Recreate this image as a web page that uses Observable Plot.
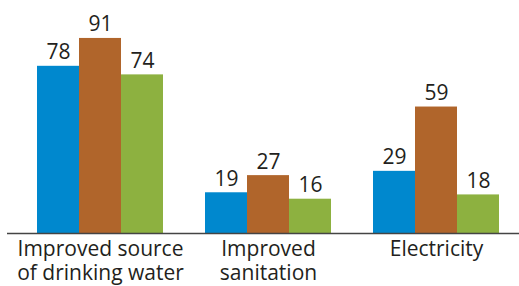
<!DOCTYPE html>
<html>
<head>
<meta charset="utf-8">
<script src="https://cdn.jsdelivr.net/npm/d3@7"></script>
<script src="https://cdn.jsdelivr.net/npm/@observablehq/plot@0.6"></script>
<style>
  html, body { margin: 0; padding: 0; background: #fff; }
  #chart svg { display: block; }
</style>
</head>
<body>
<div id="chart"></div>
<script>
const categories = ["Improved source\nof drinking water", "Improved\nsanitation", "Electricity"];
const seriesNames = ["Series 1", "Series 2", "Series 3"];
const series1 = [78, 19, 29];
const series2 = [91, 27, 59];
const series3 = [74, 16, 18];
const seriesColors = ["#0088ce", "#b0652b", "#8db140"];

const seriesValues = [series1, series2, series3];
const rows = [];
const domain = [];
categories.forEach((c, i) => {
  if (i > 0) domain.push("gap" + i);
  seriesNames.forEach((s, j) => {
    const key = i + "|" + j;
    domain.push(key);
    rows.push({key, category: c, series: s, value: seriesValues[j][i], mid: j === 1});
  });
});
const catRows = rows.filter(d => d.mid);

const plot = Plot.plot({
  width: 519,
  height: 286,
  marginLeft: 36,
  marginRight: 19,
  marginTop: 0,
  marginBottom: 53,
  style: {fontFamily: "'Open Sans', 'Noto Sans', sans-serif", color: "#231f20", background: "#fff"},
  x: {domain, padding: 0, axis: null},
  y: {domain: [0, 108.7], axis: null},
  color: {domain: seriesNames, range: seriesColors},
  marks: [
    Plot.barY(rows, {x: "key", y: "value", fill: "series"}),
    Plot.text(rows, {x: "key", y: "value", text: d => String(d.value), lineAnchor: "bottom", dy: -7, fontSize: 21, fill: "#231f20"}),
    Plot.ruleY([0], {stroke: "#444", strokeWidth: 1.5, insetLeft: -29, insetRight: -19}),
    Plot.text(catRows, {x: "key", y: 0, text: "category", lineAnchor: "top", dy: 6, fontSize: 21, lineHeight: 1.12, fill: "#231f20"})
  ]
});
document.getElementById("chart").appendChild(plot);
</script>
</body>
</html>
